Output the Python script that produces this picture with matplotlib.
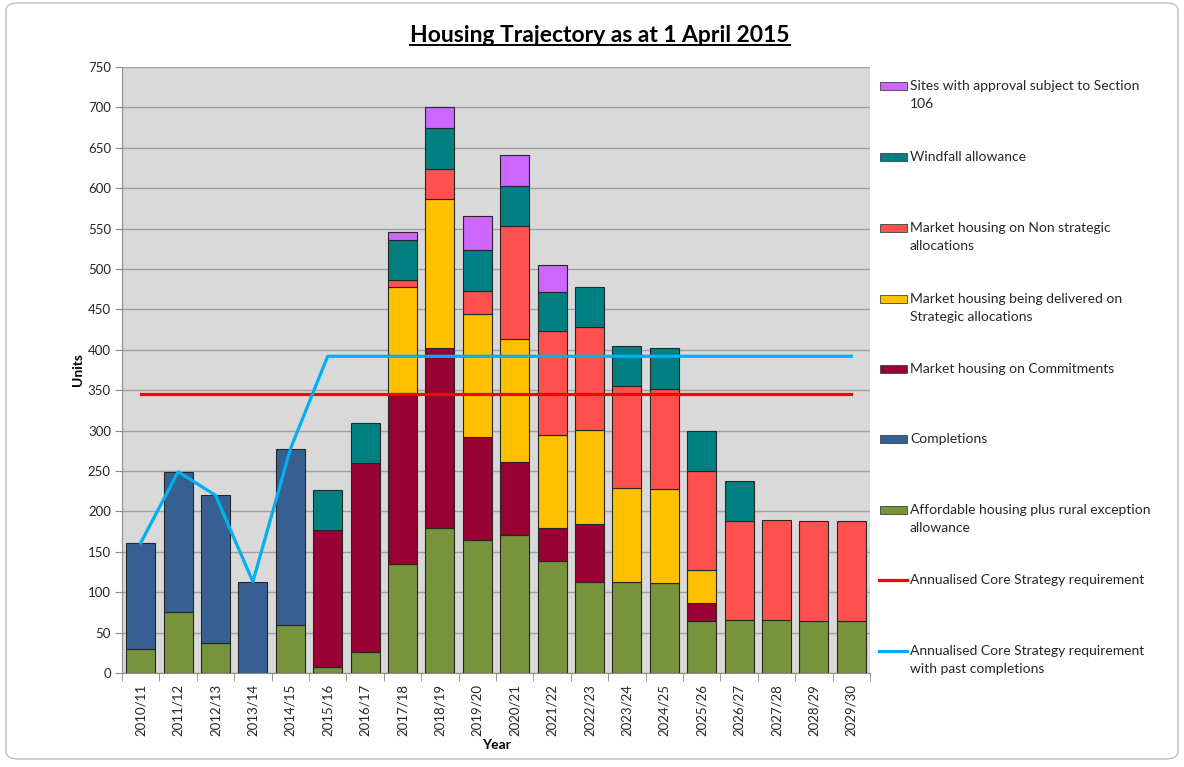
import matplotlib
matplotlib.use("Agg")
import matplotlib.pyplot as plt
import numpy as np
from matplotlib.patches import Rectangle, FancyBboxPatch
from matplotlib.lines import Line2D

# ---- data ----
years = ['2010/11', '2011/12', '2012/13', '2013/14', '2014/15', '2015/16', '2016/17',
         '2017/18', '2018/19', '2019/20', '2020/21', '2021/22', '2022/23', '2023/24',
         '2024/25', '2025/26', '2026/27', '2027/28', '2028/29', '2029/30']

affordable = [30, 75, 37, 0, 59, 8, 26, 135, 180, 165, 171, 138, 113, 113, 112, 64, 65, 65, 64, 64]
completions = [131, 174, 183, 113, 218, 0, 0, 0, 0, 0, 0, 0, 0, 0, 0, 0, 0, 0, 0, 0]
commitments = [0, 0, 0, 0, 0, 169, 234, 211, 222, 127, 90, 41, 72, 0, 0, 23, 0, 0, 0, 0]
strategic = [0, 0, 0, 0, 0, 0, 0, 132, 185, 152, 152, 116, 116, 116, 116, 40, 0, 0, 0, 0]
non_strategic = [0, 0, 0, 0, 0, 0, 0, 8, 37, 29, 140, 128, 127, 126, 124, 123, 123, 124, 124, 124]
windfall = [0, 0, 0, 0, 0, 50, 50, 50, 50, 50, 50, 49, 50, 50, 50, 50, 50, 0, 0, 0]
section106 = [0, 0, 0, 0, 0, 0, 0, 10, 26, 42, 38, 33, 0, 0, 0, 0, 0, 0, 0, 0]

requirement = [345] * 20
req_past = [161, 249, 220, 113, 277] + [392] * 15

series = [
    ("Affordable housing plus rural exception\nallowance", affordable, "#77933c"),
    ("Completions", completions, "#376092"),
    ("Market housing on Commitments", commitments, "#990033"),
    ("Market housing being delivered on\nStrategic allocations", strategic, "#ffc000"),
    ("Market housing on Non strategic\nallocations", non_strategic, "#ff5050"),
    ("Windfall allowance", windfall, "#008080"),
    ("Sites with approval subject to Section\n106", section106, "#cc66ff"),
]

plt.rcParams['font.family'] = ['Lato', 'DejaVu Sans']

fig = plt.figure(figsize=(11.84, 7.67), dpi=100)
W, H = 1184, 767

# outer border of the chart
fig.patches.append(FancyBboxPatch((6 / W, 8 / H), 1172 / W, 756 / H,
                                  boxstyle="round,pad=0,rounding_size=0.01",
                                  transform=fig.transFigure, fill=False,
                                  edgecolor="#bfbfbf", lw=1))

ax = fig.add_axes([122 / W, 1 - 673 / H, 748 / W, 606 / H])
ax.set_facecolor("#d9d9d9")

x = np.arange(len(years))
bottom = np.zeros(len(years))
for label, vals, col in series:
    vals = np.array(vals, dtype=float)
    lws = [0.8 if v > 0 else 0 for v in vals]
    ax.bar(x, vals, 0.78, bottom=bottom, color=col, edgecolor="#262626",
           linewidth=lws, zorder=3)
    bottom += vals

ax.plot(x, requirement, color="#ff0000", lw=2.3, zorder=4)
ax.plot(x, req_past, color="#00b0f0", lw=2.3, zorder=5)

ax.set_xlim(-0.5, len(years) - 0.5)
ax.set_ylim(0, 750)
ax.set_yticks(np.arange(0, 751, 50))
ax.yaxis.grid(True, color="#a0a0a0", lw=1, zorder=0)
ax.set_axisbelow(True)

ax.set_xticks(x)
ax.set_xticklabels(years, rotation=90, fontsize=9.5, color="#262626")
ax.set_xticks(np.arange(-0.5, len(years), 1), minor=True)
ax.tick_params(axis='x', which='major', length=0, pad=8)
ax.tick_params(axis='x', which='minor', length=6, color="#8c8c8c")
ax.tick_params(axis='y', length=5, color="#8c8c8c", labelsize=9.5, labelcolor="#262626", pad=3)

for s in ['top', 'right']:
    ax.spines[s].set_visible(False)
for s in ['left', 'bottom']:
    ax.spines[s].set_color("#8c8c8c")

ax.set_ylabel("Units", fontsize=10, fontweight='bold', labelpad=3)
ax.set_xlabel("Year", fontsize=10, fontweight='bold', labelpad=2)

# title (underlined)
t = fig.text(600 / W, 1 - 35 / H, "Housing Trajectory as at 1 April 2015",
             ha='center', va='center', fontsize=16.5, fontweight='bold', color="#000000")
fig.canvas.draw()
bb = t.get_window_extent()
uy = (bb.y0 + 1) / H
fig.add_artist(Line2D([bb.x0 / W, bb.x1 / W], [uy, uy], transform=fig.transFigure,
                      color="black", lw=1.4))

# legend drawn by hand so entries spread over the plot height like the original
legend_items = [(lab, col, 'patch') for lab, _, col in reversed(series)]
legend_items += [("Annualised Core Strategy requirement", "#ff0000", 'line'),
                 ("Annualised Core Strategy requirement\nwith past completions", "#00b0f0", 'line')]
ys = [86, 157, 228, 299, 369, 439, 510, 580, 651]
for (lab, col, kind), yy in zip(legend_items, ys):
    if kind == 'patch':
        fig.add_artist(Rectangle((880 / W, 1 - (yy + 4) / H), 27 / W, 8 / H,
                                 transform=fig.transFigure, facecolor=col,
                                 edgecolor="#404040", lw=0.6))
    else:
        fig.add_artist(Line2D([879 / W, 907 / W], [1 - yy / H, 1 - yy / H],
                              transform=fig.transFigure, color=col, lw=2.3))
    fig.text(910 / W, 1 - (yy - 6) / H, lab, ha='left', va='top', fontsize=10,
             color="#262626", linespacing=1.6)

fig.savefig("out.png", dpi=100)
